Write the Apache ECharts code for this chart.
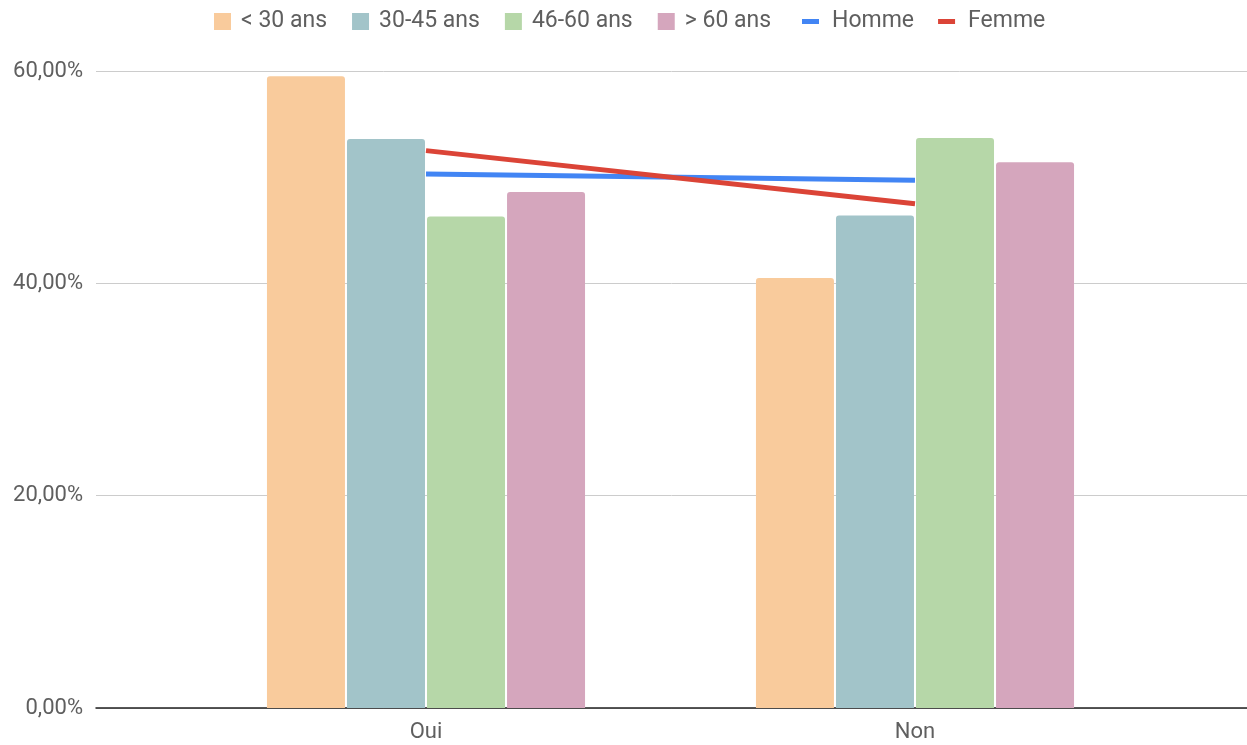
<!DOCTYPE html>
<html>
<head>
<meta charset="utf-8">
<script src="https://cdn.jsdelivr.net/npm/echarts@6/dist/echarts.min.js"></script>
<style>
  html, body { margin: 0; padding: 0; background: #ffffff; }
  #chart { width: 1247px; height: 745px; }
</style>
</head>
<body>
<div id="chart"></div>
<script>
const categories = ['Oui', 'Non'];
const ageNames = ['< 30 ans', '30-45 ans', '46-60 ans', '> 60 ans'];
const under30 = [59.5, 40.5];
const age30to45 = [53.6, 46.4];
const age46to60 = [46.3, 53.7];
const over60 = [48.6, 51.4];
const homme = [50.3, 49.7];
const femme = [52.5, 47.5];
const yTicks = [0, 20, 40, 60];

const barColors = ['#f9cb9c', '#a2c4c9', '#b6d7a8', '#d5a6bd'];
const barData = [under30, age30to45, age46to60, over60];

const chart = echarts.init(document.getElementById('chart'));
const fmt = v => v.toFixed(2).replace('.', ',') + '%';

const barSeries = ageNames.map((n, i) => ({
  name: n,
  type: 'bar',
  xAxisIndex: 1,
  yAxisIndex: 1,
  data: barData[i],
  barWidth: 78,
  barGap: '2.6%',
  itemStyle: { color: barColors[i], borderRadius: [3, 3, 0, 0] },
  z: 3
}));

chart.setOption({
  animation: false,
  textStyle: { fontFamily: 'Roboto' },
  legend: [
    {
      data: ageNames,
      left: 209, top: 5,
      icon: 'rect', itemWidth: 17, itemHeight: 17, itemGap: 25,
      textStyle: { fontSize: 23, lineHeight: 22, color: '#5f5f5f', padding: [0, 0, 0, 5] }
    },
    {
      data: ['Homme', 'Femme'],
      left: 797, top: 5,
      icon: 'rect', itemWidth: 17, itemHeight: 5, itemGap: 24,
      textStyle: { fontSize: 23, lineHeight: 22, color: '#5f5f5f', padding: [0, 0, 0, 8] }
    }
  ],
  grid: [
    { left: 96, right: 0, top: 71, bottom: 37 },
    { left: 181.5, right: 87.5, top: 71, bottom: 37 }
  ],
  xAxis: [
    {
      gridIndex: 0, type: 'value', min: 0, max: 1,
      axisLine: { show: true, lineStyle: { color: '#222', width: 1.5 } },
      axisTick: { show: false }, axisLabel: { show: false }, splitLine: { show: false }
    },
    {
      gridIndex: 1, type: 'category', data: categories,
      axisLine: { show: false }, axisTick: { show: false },
      axisLabel: { fontSize: 22, color: '#5f5f5f', margin: 13 }
    }
  ],
  yAxis: [
    {
      gridIndex: 0, type: 'value', min: 0, max: 60, interval: 20,
      axisLine: { show: false }, axisTick: { show: false },
      axisLabel: { fontSize: 22, color: '#5f5f5f', margin: 13, formatter: v => yTicks.includes(v) ? fmt(v) : '' },
      splitLine: { show: true, lineStyle: { color: '#cccccc', width: 1 } }
    },
    {
      gridIndex: 1, type: 'value', min: 0, max: 60, interval: 20, show: false,
      splitLine: { show: false }
    }
  ],
  series: [
    ...barSeries,
    {
      name: 'Homme', type: 'line', xAxisIndex: 1, yAxisIndex: 1, data: homme,
      symbol: 'none', lineStyle: { width: 5, color: '#4285f4' }, itemStyle: { color: '#4285f4' }, z: 2
    },
    {
      name: 'Femme', type: 'line', xAxisIndex: 1, yAxisIndex: 1, data: femme,
      symbol: 'none', lineStyle: { width: 5, color: '#db4437' }, itemStyle: { color: '#db4437' }, z: 2
    }
  ]
});
</script>
</body>
</html>
